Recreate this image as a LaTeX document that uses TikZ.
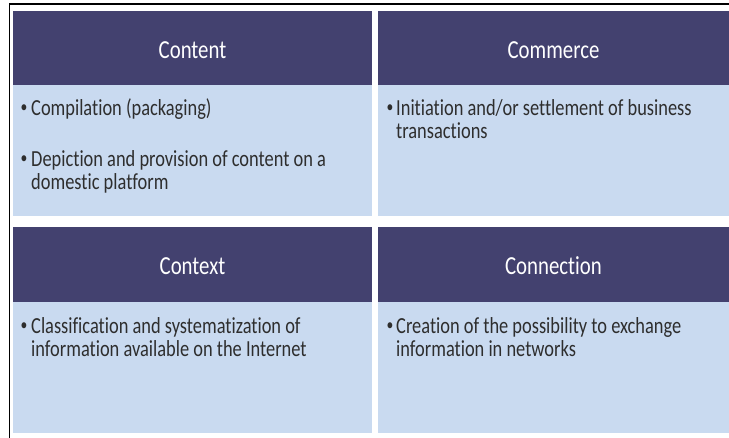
\documentclass[tikz,border=0pt]{standalone}
\usepackage{fontspec}
\setmainfont{Carlito}[FakeStretch=0.8,Ligatures=NoCommon]
\definecolor{hdr}{HTML}{43416F}
\definecolor{bodyc}{HTML}{C9DAF0}
\definecolor{txt}{HTML}{2E2E2E}
\newcommand{\lines}[1]{\begin{tabular}[t]{@{}l@{}}#1\end{tabular}}
\begin{document}
\begin{tikzpicture}[x=1pt,y=-1pt,
  header/.style={fill=hdr},
  panel/.style={fill=bodyc},
  title/.style={text=white,font=\fontsize{26}{28}\selectfont,anchor=center,inner sep=0pt},
  dot/.style={text=txt,font=\fontsize{17}{22}\selectfont,anchor=base,inner sep=0pt},
  item/.style={text=txt,font=\fontsize{23}{22}\selectfont,anchor=base west,inner sep=0pt}]
\useasboundingbox (0,0) rectangle (729,438);
\fill[white] (0,0) rectangle (729,438);
% frame
\draw[line width=1.6pt,black] (9.5,438) -- (9.5,4) -- (729,4);
% panels
\fill[panel] (13,11) rectangle (372,216);
\fill[header] (13,11) rectangle (372,85);
\fill[panel] (378,11) rectangle (729,216);
\fill[header] (378,11) rectangle (729,85);
\fill[panel] (13,227) rectangle (372,433);
\fill[header] (13,227) rectangle (372,302);
\fill[panel] (378,227) rectangle (729,433);
\fill[header] (378,227) rectangle (729,302);
% titles
\node[title] (t1) at (192.5,50) {Content};
\node[title] (t2) at (553.5,50) {Commerce};
\node[title] (t3) at (192.5,266) {Context};
\node[title] (t4) at (553.5,266) {Connection};
% Content
\node[dot] (b1a) at (24,113) {•};
\node[item] (i1a) at (31,116) {\lines{Compilation (packaging)}};
\node[dot] (b1b) at (24,164) {•};
\node[item] (i1b) at (31,167) {\lines{Depiction and provision of content on a\\domestic platform}};
% Commerce
\node[dot] (b2a) at (390,113) {•};
\node[item] (i2a) at (396,116) {\lines{Initiation and/or settlement of business\\transactions}};
% Context
\node[dot] (b3a) at (24,331) {•};
\node[item] (i3a) at (31,334) {\lines{Classification and systematization of\\information available on the Internet}};
% Connection
\node[dot] (b4a) at (390,331) {•};
\node[item] (i4a) at (396,334) {\lines{Creation of the possibility to exchange\\information in networks}};
\end{tikzpicture}
\end{document}
